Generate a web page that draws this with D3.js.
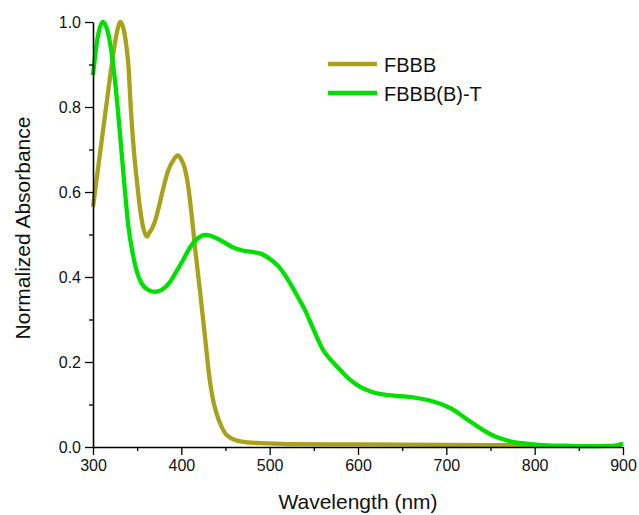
<!DOCTYPE html>
<html>
<head>
<meta charset="utf-8">
<script src="https://cdn.jsdelivr.net/npm/d3@7/dist/d3.min.js"></script>
<style>
  html, body { margin: 0; padding: 0; background: #fff; }
  svg { display: block; font-family: "Liberation Sans", Arial, sans-serif; }
</style>
</head>
<body>
<svg id="chart" width="639" height="515"></svg>
<script>
// Normalized UV-vis absorption spectra
const seriesNames = ["FBBB", "FBBB(B)-T"];
const seriesColors = ["#a9a01b", "#00e000"];

const fbbbWavelength = [300, 306, 312, 318, 323, 327, 331, 335, 338, 340, 343, 347, 350, 353, 357, 361, 364, 367, 370, 374, 378, 385, 391, 396, 400, 404, 408, 412, 416, 421, 427, 432, 436, 440, 445, 450, 456, 463, 475, 490, 520, 600, 700, 800];
const fbbbAbsorbance = [0.565, 0.66, 0.755, 0.85, 0.925, 0.975, 1.0, 0.98, 0.94, 0.90, 0.79, 0.68, 0.62, 0.565, 0.515, 0.495, 0.505, 0.515, 0.53, 0.56, 0.595, 0.65, 0.675, 0.686, 0.676, 0.655, 0.61, 0.54, 0.46, 0.37, 0.255, 0.16, 0.11, 0.078, 0.05, 0.031, 0.021, 0.015, 0.011, 0.009, 0.007, 0.006, 0.005, 0.004];

const fbbbtWavelength = [300, 305, 311, 318, 325, 330, 335, 340, 345, 350, 355, 362, 370, 378, 387, 395, 402, 410, 418, 428, 438, 448, 458, 468, 480, 490, 500, 510, 520, 530, 540, 550, 560, 570, 580, 590, 602, 615, 630, 645, 662, 680, 700, 710, 720, 730, 740, 750, 760, 775, 795, 815, 835, 860, 882, 893, 900];
const fbbbtAbsorbance = [0.875, 0.96, 1.0, 0.965, 0.86, 0.75, 0.63, 0.52, 0.455, 0.41, 0.385, 0.37, 0.365, 0.37, 0.388, 0.415, 0.44, 0.47, 0.49, 0.499, 0.493, 0.482, 0.47, 0.463, 0.459, 0.455, 0.443, 0.425, 0.396, 0.36, 0.322, 0.275, 0.23, 0.203, 0.181, 0.16, 0.142, 0.13, 0.123, 0.12, 0.117, 0.11, 0.096, 0.085, 0.07, 0.056, 0.042, 0.03, 0.021, 0.012, 0.007, 0.004, 0.003, 0.002, 0.0025, 0.004, 0.008];

const xTicks = [300, 400, 500, 600, 700, 800, 900];
const yTicks = [0.0, 0.2, 0.4, 0.6, 0.8, 1.0];

const svg = d3.select("#chart");
const plot = { left: 93, right: 623, top: 22, bottom: 447 };

const x = d3.scaleLinear().domain([300, 900]).range([plot.left, plot.right]);
const y = d3.scaleLinear().domain([0, 1]).range([plot.bottom, plot.top]);

// minor ticks
const xMinor = d3.range(350, 900, 100);
const yMinor = d3.range(0.1, 1.0, 0.2);

const series = [
  { name: seriesNames[0], color: seriesColors[0], xs: fbbbWavelength, ys: fbbbAbsorbance },
  { name: seriesNames[1], color: seriesColors[1], xs: fbbbtWavelength, ys: fbbbtAbsorbance }
];

const line = d3.line()
  .x(d => x(d[0]))
  .y(d => y(d[1]))
  .curve(d3.curveMonotoneX);

svg.append("g")
  .selectAll("path")
  .data(series)
  .join("path")
  .attr("fill", "none")
  .attr("stroke", d => d.color)
  .attr("stroke-width", 4.3)
  .attr("stroke-linejoin", "round")
  .attr("d", d => line(d.xs.map((v, i) => [v, d.ys[i]])));

// axes
const xAxis = svg.append("g").attr("transform", `translate(0,${plot.bottom})`)
  .call(d3.axisBottom(x).tickValues(xTicks).tickFormat(d3.format("d")).tickSize(8).tickSizeOuter(0));
svg.append("g").attr("transform", `translate(0,${plot.bottom})`)
  .call(d3.axisBottom(x).tickValues(xMinor).tickFormat("").tickSize(4).tickSizeOuter(0))
  .select(".domain").remove();

const yAxis = svg.append("g").attr("transform", `translate(${plot.left},0)`)
  .call(d3.axisLeft(y).tickValues(yTicks).tickFormat(d3.format(".1f")).tickSize(8).tickSizeOuter(0));
svg.append("g").attr("transform", `translate(${plot.left},0)`)
  .call(d3.axisLeft(y).tickValues(yMinor).tickFormat("").tickSize(4).tickSizeOuter(0))
  .select(".domain").remove();

svg.selectAll(".domain").attr("stroke", "#000").attr("stroke-width", 1.6);
svg.selectAll(".tick line").attr("stroke", "#000").attr("stroke-width", 1.3);
xAxis.selectAll(".tick text").attr("font-size", 16).attr("fill", "#111").attr("dy", "0.95em").attr("y", 9);
yAxis.selectAll(".tick text").attr("font-size", 16).attr("fill", "#111").attr("x", -12);

// axis titles
svg.append("text")
  .attr("x", (plot.left + plot.right) / 2)
  .attr("y", 509)
  .attr("text-anchor", "middle")
  .attr("font-size", 21)
  .attr("fill", "#111")
  .text("Wavelength (nm)");

svg.append("text")
  .attr("transform", "translate(29.5,228) rotate(-90)")
  .attr("text-anchor", "middle")
  .attr("font-size", 21)
  .attr("fill", "#111")
  .text("Normalized Absorbance");

// legend
const legend = svg.append("g");
series.forEach((s, i) => {
  const ly = 64 + i * 29;
  legend.append("line")
    .attr("x1", 328).attr("x2", 377)
    .attr("y1", ly).attr("y2", ly)
    .attr("stroke", s.color).attr("stroke-width", 4.3);
  legend.append("text")
    .attr("x", 384).attr("y", ly + 7.5)
    .attr("font-size", 20)
    .attr("fill", "#111")
    .text(s.name);
});
</script>
</body>
</html>
